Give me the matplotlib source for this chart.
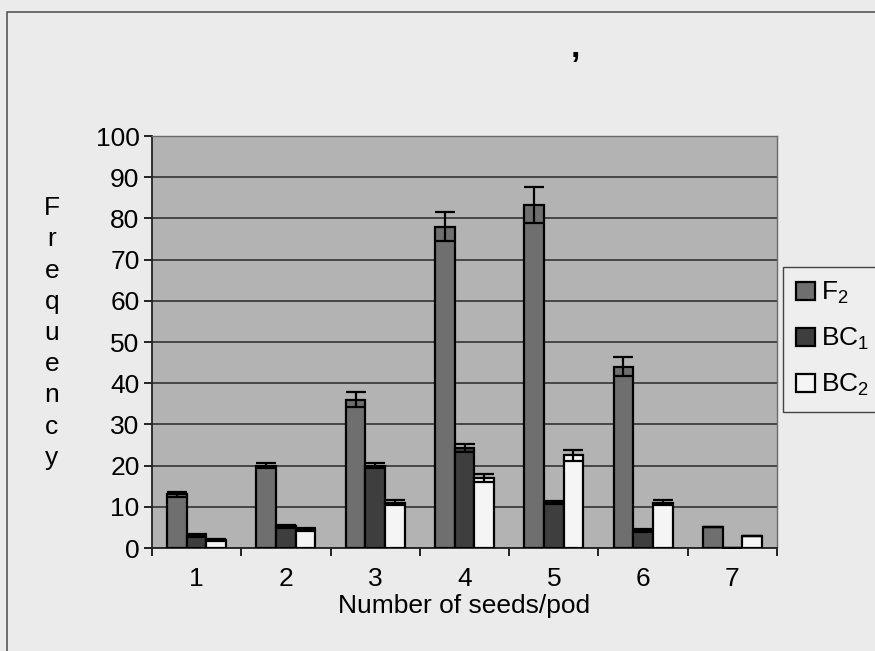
import numpy as np
import matplotlib
matplotlib.use("Agg")
import matplotlib.pyplot as plt
from matplotlib.patches import Rectangle

# seeds per pod frequencies for the three generations
seeds = ["1", "2", "3", "4", "5", "6", "7"]
f2 = [13, 20, 36, 78, 83.3, 44, 5]
bc1 = [3, 5.3, 20, 24.3, 11, 4.2, 0]
bc2 = [2, 4.5, 11, 17, 22.5, 11, 3]
f2_err = [0.6, 0.7, 1.8, 3.5, 4.3, 2.3, 0]
bc1_err = [0.4, 0.4, 0.7, 0.9, 0.4, 0.4, 0]
bc2_err = [0.3, 0.3, 0.6, 1.0, 1.4, 0.6, 0]
series_names = [r"$\mathregular{F_2}$", r"$\mathregular{BC_1}$", r"$\mathregular{BC_2}$"]

plt.rcParams["font.family"] = ["Liberation Sans", "DejaVu Sans"]

page = "#ebebeb"
fs = 19
fig = plt.figure(figsize=(8.75, 6.51), dpi=100, facecolor=page)

# chart area frame (runs off the right and bottom of the page)
fig.patches.append(Rectangle((7 / 875, -0.1), 1.1, 0.1 + (1 - 12 / 651),
                             transform=fig.transFigure, fill=False,
                             edgecolor="#555555", linewidth=1.2))

ax = fig.add_axes([152 / 875, 1 - 548 / 651, 625 / 875, 412 / 651])
ax.set_facecolor("#b3b3b3")

x = np.arange(len(seeds))
w = 0.22
colors = ["#6f6f6f", "#3e3e3e", "#f5f5f5"]
for i, (vals, errs) in enumerate([(f2, f2_err), (bc1, bc1_err), (bc2, bc2_err)]):
    ax.bar(x + (i - 1) * w, vals, w, color=colors[i], edgecolor="black",
           linewidth=1.6, label=series_names[i], zorder=3)
    ax.errorbar(x + (i - 1) * w, vals, yerr=errs, fmt="none", ecolor="black",
                elinewidth=1.6, capsize=7, capthick=1.6, zorder=4)

ax.set_xlim(-0.5, len(seeds) - 0.5)
ax.set_ylim(0, 100)
ax.set_yticks(np.arange(0, 101, 10))
ax.yaxis.grid(True, color="#333333", linewidth=1.2, zorder=1)
ax.set_axisbelow(True)

# ticks on category boundaries, labels at centres
ax.set_xticks(np.arange(-0.5, len(seeds), 1))
ax.set_xticklabels([])
ax.set_xticks(x, minor=True)
ax.set_xticklabels(seeds, minor=True)
ax.tick_params(axis="x", which="major", length=6, width=1.2, direction="out")
ax.tick_params(axis="x", which="minor", length=0, pad=14, labelsize=fs)
ax.tick_params(axis="y", length=6, width=1.2, labelsize=fs, pad=3)

for side in ["top", "right"]:
    ax.spines[side].set_color("#6a6a6a")
    ax.spines[side].set_linewidth(1.0)
for side in ["left", "bottom"]:
    ax.spines[side].set_color("#222222")
    ax.spines[side].set_linewidth(1.3)

ax.set_xlabel("Number of seeds/pod", fontsize=fs, labelpad=2)
fig.text(52 / 875, 1 - 333 / 651, "F\nr\ne\nq\nu\ne\nn\nc\ny", fontsize=fs,
         ha="center", va="center", linespacing=1.38)

fig.text(575 / 875, 1 - 48 / 651, ",", fontsize=24, fontweight="bold",
         ha="center", va="center")

leg = ax.legend(loc="upper left", bbox_to_anchor=(783 / 875, 1 - 267 / 651),
                bbox_transform=fig.transFigure, borderaxespad=0, fontsize=fs,
                fancybox=False, framealpha=1, facecolor="#eeeeee",
                edgecolor="#444444", handlelength=0.7, handleheight=0.7,
                handletextpad=0.25, labelspacing=0.75, borderpad=0.5)
leg.get_frame().set_linewidth(1.0)

fig.savefig("out.png", dpi=100, facecolor=page)
